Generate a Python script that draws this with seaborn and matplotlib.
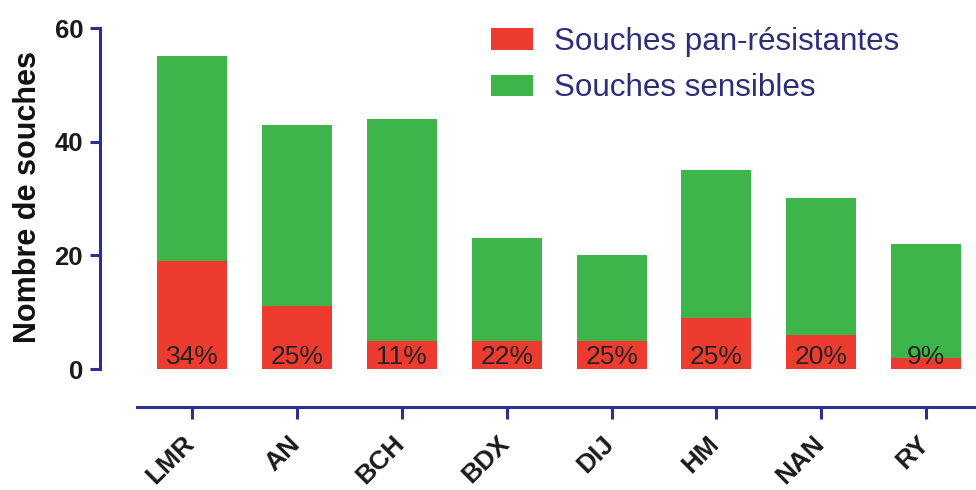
import matplotlib
matplotlib.use("Agg")
import matplotlib.pyplot as plt
import matplotlib.transforms as mtransforms
from matplotlib.patches import Patch
import seaborn as sns
import pandas as pd

categories = ["LMR", "AN", "BCH", "BDX", "DIJ", "HM", "NAN", "RY"]
total_strains = [55, 43, 44, 23, 20, 35, 30, 22]
pan_resistant = [19, 11, 5, 5, 5, 9, 6, 2]
percent_labels = ["34%", "25%", "11%", "22%", "25%", "25%", "20%", "9%"]
legend_labels = ["Souches pan-résistantes", "Souches sensibles"]
y_ticks = [0, 20, 40, 60]

RED = "#EE3B2F"
GREEN = "#3DB54A"
NAVY = "#2B2F8E"
LEGEND_TXT = "#2D2D7A"

sns.set_style("white")
plt.rcParams["font.family"] = ["Liberation Sans", "DejaVu Sans"]

df = pd.DataFrame({"site": categories, "total": total_strains, "pan": pan_resistant})

fig = plt.figure(figsize=(9.76, 4.90), dpi=100)
ax = fig.add_axes([100 / 976, 121 / 490, 876 / 976, 341 / 490])

sns.barplot(data=df, x="site", y="total", order=categories, color=GREEN,
            saturation=1, width=0.667, linewidth=0, ax=ax)
sns.barplot(data=df, x="site", y="pan", order=categories, color=RED,
            saturation=1, width=0.667, linewidth=0, ax=ax)

for i, lab in enumerate(percent_labels):
    ax.text(i, 0.9, lab, ha="center", va="baseline", fontsize=19,
            color="#222222")

ax.set_xlim(-0.877, 7.474)
ax.set_ylim(0, 60)
ax.set_yticks(y_ticks)
ax.set_yticklabels([str(v) for v in y_ticks], fontsize=18.5, fontweight="bold")

for s in ["top", "right"]:
    ax.spines[s].set_visible(False)
for s in ["left", "bottom"]:
    ax.spines[s].set_color(NAVY)
    ax.spines[s].set_linewidth(2.2)
ax.spines["left"].set_bounds(0, 60)
ax.spines["bottom"].set_bounds(-0.52, 7.474)
ax.spines["bottom"].set_position(("outward", 27.4))

ax.tick_params(axis="y", length=7.2, width=2.2, color=NAVY, pad=5,
               labelcolor="#1a1a1a", left=True)
ax.tick_params(axis="x", length=8.6, width=2.2, color=NAVY, pad=21,
               labelcolor="#1a1a1a", bottom=True)

ax.set_xlabel("")
ax.set_xticks(range(len(categories)))
ax.set_xticklabels(categories, fontsize=19, fontweight="bold", rotation=45,
                   ha="right", va="baseline", rotation_mode="anchor")
offset = mtransforms.ScaledTranslation(4 / 100, 3 / 100, fig.dpi_scale_trans)
for lbl in ax.get_xticklabels():
    lbl.set_transform(lbl.get_transform() + offset)

ax.set_ylabel("Nombre de souches", fontsize=22, fontweight="bold",
              color="#111111")
ax.yaxis.set_label_coords(-0.065, 0.504)

handles = [Patch(facecolor=RED, edgecolor="none"),
           Patch(facecolor=GREEN, edgecolor="none")]
leg = fig.legend(handles, legend_labels, loc="upper left",
                 bbox_to_anchor=(491 / 976, 1 - 27 / 490), frameon=False,
                 fontsize=22.6, handlelength=1.33, handleheight=0.67,
                 handletextpad=0.67, labelspacing=0.52, borderpad=0,
                 borderaxespad=0)
for t in leg.get_texts():
    t.set_color(LEGEND_TXT)

fig.savefig("out.png", dpi=100)
